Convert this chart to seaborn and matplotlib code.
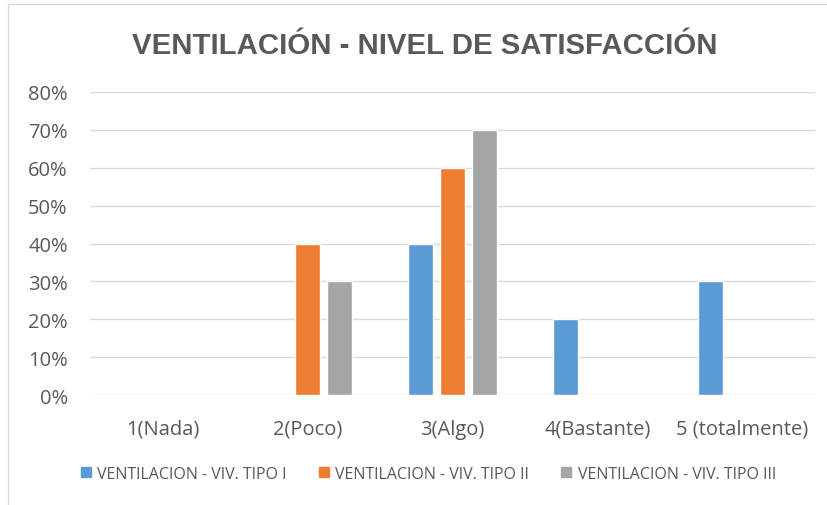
import seaborn as sns
import matplotlib.pyplot as plt
import pandas as pd
from matplotlib.lines import Line2D
from matplotlib.ticker import FuncFormatter

categories = ["1(Nada)", "2(Poco)", "3(Algo)", "4(Bastante)", "5 (totalmente)"]
series = ["VENTILACION - VIV. TIPO I", "VENTILACION - VIV. TIPO II", "VENTILACION - VIV. TIPO III"]
tipo_1 = [0.0, 0.0, 0.40, 0.20, 0.30]
tipo_2 = [0.0, 0.40, 0.60, 0.0, 0.0]
tipo_3 = [0.0, 0.30, 0.70, 0.0, 0.0]
colors = ["#5B9BD5", "#ED7D31", "#A5A5A5"]

rows = []
for name, vals in zip(series, [tipo_1, tipo_2, tipo_3]):
    for cat, v in zip(categories, vals):
        rows.append({"cat": cat, "serie": name, "valor": v})
df = pd.DataFrame(rows)

sns.set_theme(style="white")
plt.rcParams['font.family'] = ['Open Sans', 'DejaVu Sans']

fig = plt.figure(figsize=(8.28, 5.06), dpi=100)
ax = fig.add_axes([90/828, 1-396/506, (815-90)/828, (396-93)/506])

sns.barplot(data=df, x="cat", y="valor", hue="serie", order=categories, hue_order=series,
            palette=colors, width=0.66, gap=0.22, ax=ax, legend=False, saturation=1)

ax.set_ylim(0, 0.8)
ax.set_yticks([i/10 for i in range(9)])
ax.yaxis.set_major_formatter(FuncFormatter(lambda v, p: f"{v*100:.0f}%"))
ax.grid(axis="y", color="#D9D9D9", linewidth=1)
ax.set_axisbelow(True)
for s in ax.spines.values():
    s.set_visible(False)
ax.set_xlabel("")
ax.set_ylabel("")
ax.tick_params(axis="both", length=0, labelsize=14.5, labelcolor="#595959")
ax.tick_params(axis="x", pad=17)
ax.tick_params(axis="y", pad=16)

fig.text(425/828, 1-54/506, "VENTILACIÓN - NIVEL DE SATISFACCIÓN", ha="center", va="baseline",
         fontsize=21.2, fontweight="bold", color="#595959", family=["Liberation Sans", "DejaVu Sans"])

handles = [Line2D([0], [0], marker="s", linestyle="", markersize=7.5, markerfacecolor=c, markeredgecolor=c)
           for c in colors]
fig.legend(handles, series, loc="center", bbox_to_anchor=(428/828, 1-475/506), ncol=3,
           frameon=False, fontsize=11.5, labelcolor="#595959", handletextpad=0.35, columnspacing=2.0,
           handlelength=0.7)

# chart border (top and left visible)
fig.add_artist(Line2D([8/828, 1], [1-5/506, 1-5/506], color="#D9D9D9", linewidth=1))
fig.add_artist(Line2D([8/828, 8/828], [0, 1-5/506], color="#D9D9D9", linewidth=1))

fig.savefig("out.png", dpi=100)
